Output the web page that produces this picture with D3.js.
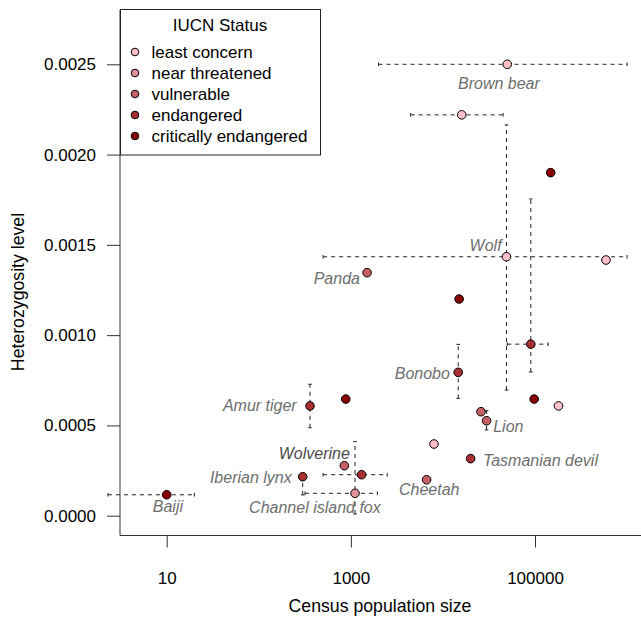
<!DOCTYPE html>
<html><head><meta charset="utf-8">
<script src="https://cdn.jsdelivr.net/npm/d3@7"></script>
<style>
body{margin:0;background:#fff}
svg{display:block}
text{font-family:"Liberation Sans",Arial,Helvetica,sans-serif}
</style>
</head><body>
<svg id="chart" width="641" height="617"></svg>
<script>
// ---------- data ----------
const statusLevels = ["least concern","near threatened","vulnerable","endangered","critically endangered"];
const statusColors = ["#FFC0CB","#E29098","#C56066","#A83033","#8B0000"];

const species = ["Brown bear","","Wolf","","","","Panda","","Bonobo","","","","Lion","","Tasmanian devil","Cheetah","Amur tiger","","Wolverine","","Iberian lynx","Baiji","Channel island fox"];
const status = ["least concern","least concern","least concern","critically endangered","endangered","least concern","vulnerable","critically endangered","endangered","critically endangered","least concern","vulnerable","vulnerable","least concern","endangered","vulnerable","endangered","critically endangered","vulnerable","endangered","endangered","critically endangered","near threatened"];
const census = [50000,16000,49000,148000,90000,590000,1500,15000,14650,98000,180000,25900,29800,8000,20000,6650,360,880,850,1310,300,10,1110];
const heterozygosity = [0.0025,0.00222,0.001434,0.0019,0.00095,0.001416,0.001346,0.0012,0.000794,0.000646,0.000608,0.000576,0.000526,0.000397,0.000316,0.000199,0.000608,0.000646,0.000277,0.000227,0.000216,0.000116,0.000124];
const censusLow  = [2000,4460,500,null,50000,null,null,null,null,null,null,null,null,null,null,null,null,null,null,500,null,2.3,318];
const censusHigh = [1e6,45000,1e6,null,139000,null,null,null,null,null,null,null,null,null,null,null,null,null,null,2480,null,20,1940];
const hetLow  = [null,null,0.000696,null,0.000796,null,null,null,0.00065,null,null,null,0.000475,null,null,null,0.000487,null,null,null,0.000115,null,0.0000094];
const hetHigh = [null,null,0.002164,null,0.001754,null,null,null,0.000949,null,null,null,0.000582,null,null,null,0.000728,null,null,null,0.000225,null,0.00041];

// label anchors (data units)
const labelNames  = ["Brown bear","Wolf","Panda","Bonobo","Lion","Tasmanian devil","Cheetah","Amur tiger","Wolverine","Iberian lynx","Baiji","Channel island fox"];
const labelAnchor = ["middle","end","end","end","start","start","middle","end","end","end","middle","middle"];
const labelCensus = [40550,43400,1256,11910,35160,27180,7100,258,977,228,10.3,407];
const labelHet    = [0.002396,0.001499,0.001316,0.00079,0.000493,0.000308,0.000148,0.000613,0.000346,0.000213,0.00005,0.0000465];

const xTicks = [10,1000,100000];
const yTicks = [0,0.0005,0.0010,0.0015,0.0020,0.0025];

// ---------- chart ----------
(function(){
const svg = d3.select("#chart");
const x = d3.scaleLog().domain([10,100000]).range([166.7,535]);
const y = d3.scaleLinear().domain([0,0.0025]).range([515.7,64.3]);
const color = d3.scaleOrdinal().domain(statusLevels).range(statusColors);

const pLeft = 120, pBottom = 535.5, pTop = 10;

const yAxis = svg.append("g").attr("transform",`translate(${pLeft},0)`)
  .call(d3.axisLeft(y).tickValues(yTicks).tickFormat(d3.format(".4f")).tickSize(13).tickPadding(11));
const xAxis = svg.append("g").attr("transform",`translate(0,${pBottom})`)
  .call(d3.axisBottom(x).tickValues(xTicks).tickFormat(d3.format("d")).tickSize(12).tickPadding(24));
[yAxis,xAxis].forEach(g=>{
  g.select(".domain").remove();
  g.selectAll(".tick line").attr("stroke","#333");
  g.selectAll(".tick text").attr("font-size",17).attr("fill","#000").attr("font-family",'"Liberation Sans",Arial,sans-serif');
});
svg.append("path").attr("d",`M${pLeft},${pTop}V${pBottom}H641`).attr("fill","none").attr("stroke","#333").attr("stroke-width",1);

svg.append("text").attr("x",380).attr("y",612).attr("text-anchor","middle").attr("font-size",17.7).text("Census population size");
svg.append("text").attr("transform","translate(24,292) rotate(-90)").attr("text-anchor","middle").attr("font-size",17.7).text("Heterozygosity level");

const data = census.map((c,i)=>({c,h:heterozygosity[i],s:status[i],cl:censusLow[i],ch:censusHigh[i],hl:hetLow[i],hh:hetHigh[i]}));
const eb = svg.append("g").attr("stroke","#222").attr("stroke-width",1).attr("fill","none");
const cap = 1.8;
data.forEach(d=>{
  if(d.cl!=null){
    const yy=y(d.h), x1=x(d.cl), x2=x(d.ch);
    eb.append("line").attr("x1",x1).attr("x2",x2).attr("y1",yy).attr("y2",yy).attr("stroke-dasharray","4,4");
    [x1,x2].forEach(xx=>eb.append("line").attr("x1",xx).attr("x2",xx).attr("y1",yy-cap).attr("y2",yy+cap));
  }
  if(d.hl!=null){
    const xx=x(d.c), y1=y(d.hl), y2=y(d.hh);
    eb.append("line").attr("x1",xx).attr("x2",xx).attr("y1",y1).attr("y2",y2).attr("stroke-dasharray","4,4");
    [y1,y2].forEach(yy=>eb.append("line").attr("x1",xx-cap).attr("x2",xx+cap).attr("y1",yy).attr("y2",yy));
  }
});

svg.append("g").selectAll("circle").data(data).join("circle")
  .attr("cx",d=>x(d.c)).attr("cy",d=>y(d.h)).attr("r",4.3)
  .attr("fill",d=>color(d.s)).attr("stroke","#000").attr("stroke-width",1);

svg.append("g").selectAll("text").data(labelNames).join("text")
  .attr("x",(d,i)=>x(labelCensus[i])).attr("y",(d,i)=>y(labelHet[i])).attr("dy","0.35em")
  .attr("text-anchor",(d,i)=>labelAnchor[i])
  .attr("font-size",16).attr("font-style","italic")
  .attr("fill",d=>d==="Wolverine"?"#4a4a4a":"#6e6e6e")
  .text(d=>d);

const lg = svg.append("g");
lg.append("rect").attr("x",120.5).attr("y",9.5).attr("width",200).attr("height",145.5).attr("fill","#fff").attr("stroke","#222");
lg.append("text").attr("x",220).attr("y",31).attr("text-anchor","middle").attr("font-size",17).text("IUCN Status");
statusLevels.forEach((s,i)=>{
  const yy = 52 + i*21;
  lg.append("circle").attr("cx",135).attr("cy",yy).attr("r",3.8).attr("fill",color(s)).attr("stroke","#000").attr("stroke-width",1);
  lg.append("text").attr("x",151.5).attr("y",yy).attr("dy","0.35em").attr("font-size",17).text(s);
});
})();
</script>
</body></html>
